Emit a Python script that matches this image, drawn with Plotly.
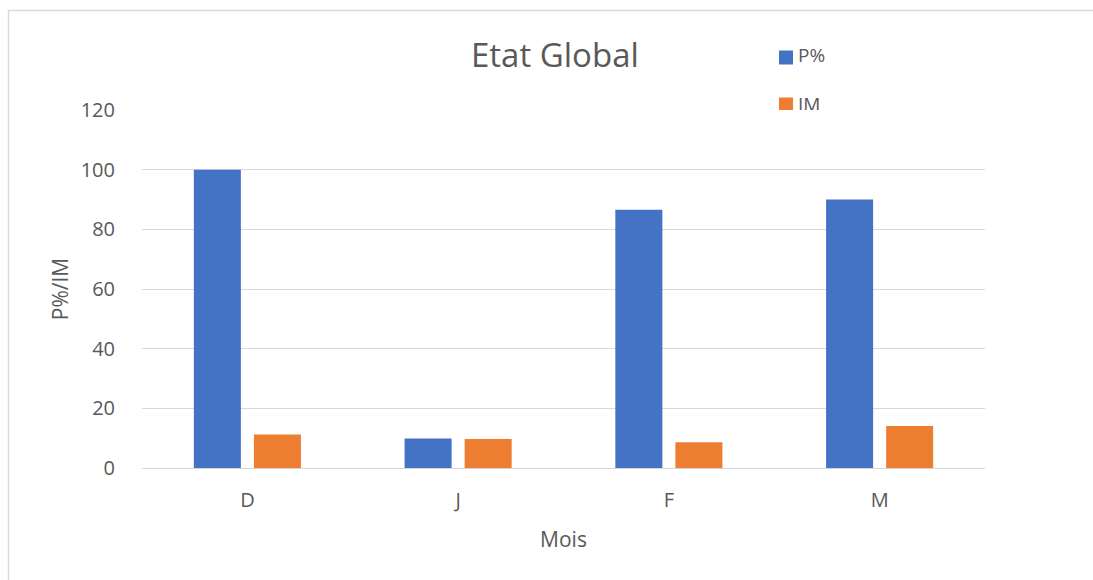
import plotly.graph_objects as go

# Monthly values
mois = ["D", "J", "F", "M"]
p_pct = [100, 9.9, 86.6, 90.0]
im = [11.2, 9.7, 8.6, 14.1]

series_names = ["P%", "IM"]
colors = ["#4472C4", "#ED7D31"]
text_color = "#595959"
grid_color = "#D9D9D9"
font_family = "Open Sans, sans-serif"

W, H = 1093, 580
ML, MR, MT, MB = 142, 108, 10, 112
PW, PH = W - ML - MR, H - MT - MB
PLOT_TOP = 110  # pixel row of the top of the bar area


def px_x(px):
    return (px - ML) / PW


def px_y(py):
    return (H - MB - py) / PH


fig = go.Figure()

for name, vals, col in zip(series_names, [p_pct, im], colors):
    fig.add_trace(go.Bar(
        x=mois, y=vals, name=name, marker_color=col,
        marker_line_width=0, showlegend=False,
        xaxis="x", yaxis="y",
    ))

# Legend block: a small clipped subplot so the lower entry sits under the plot's top edge
leg_y = [52.5, 5.5]
fig.add_trace(go.Scatter(
    x=[16, 16], y=leg_y, mode="markers",
    marker=dict(symbol="square", size=14, color=colors, line_width=0),
    xaxis="x2", yaxis="y2", showlegend=False, cliponaxis=True, hoverinfo="skip",
))
fig.add_trace(go.Scatter(
    x=[28, 28], y=[leg_y[0], leg_y[1] - 1.5], mode="text", text=series_names,
    textposition="middle right",
    textfont=dict(family=font_family, size=19, color=text_color),
    xaxis="x2", yaxis="y2", showlegend=False, cliponaxis=True, hoverinfo="skip",
))

fig.update_layout(
    width=W, height=H,
    margin=dict(l=ML, r=MR, t=MT, b=MB, autoexpand=False),
    paper_bgcolor="white",
    plot_bgcolor="rgba(0,0,0,0)",
    font=dict(family=font_family, color=text_color),
    barmode="group",
    bargap=0.43,
    bargroupgap=0.217,
    xaxis=dict(
        domain=[0, 1],
        range=[-0.5, 3.5], showgrid=False, zeroline=False, showline=False,
        ticks="outside", ticklen=14, tickcolor="rgba(0,0,0,0)",
        tickfont=dict(size=20, color=text_color),
        title=dict(text="Mois", font=dict(size=21, color=text_color), standoff=20),
        fixedrange=True,
    ),
    yaxis=dict(
        domain=[0, px_y(PLOT_TOP)],
        range=[0, 120], dtick=20, showgrid=True, gridcolor=grid_color, gridwidth=1,
        zeroline=True, zerolinecolor=grid_color, zerolinewidth=1, showline=False,
        ticks="outside", ticklen=22, tickcolor="rgba(0,0,0,0)",
        tickfont=dict(size=20, color=text_color),
        title=dict(text="P%/IM", font=dict(size=21, color=text_color), standoff=6),
        fixedrange=True,
    ),
    xaxis2=dict(domain=[px_x(770), px_x(900)], range=[0, 130], visible=False,
                anchor="y2", fixedrange=True),
    yaxis2=dict(domain=[px_y(PLOT_TOP), px_y(30)], range=[0, 80], visible=False,
                anchor="x2", fixedrange=True),
    annotations=[dict(
        text="Etat Global", xref="paper", yref="paper",
        x=px_x(555), y=px_y(55), xanchor="center", yanchor="middle",
        showarrow=False, font=dict(size=33, color=text_color),
    )],
    shapes=[dict(
        type="rect", xref="paper", yref="paper",
        x0=px_x(8.5), x1=px_x(1120), y0=px_y(600), y1=px_y(10.5),
        line=dict(color=grid_color, width=1.5), fillcolor="rgba(0,0,0,0)",
        layer="below",
    )],
)

fig.write_html("out.html")
